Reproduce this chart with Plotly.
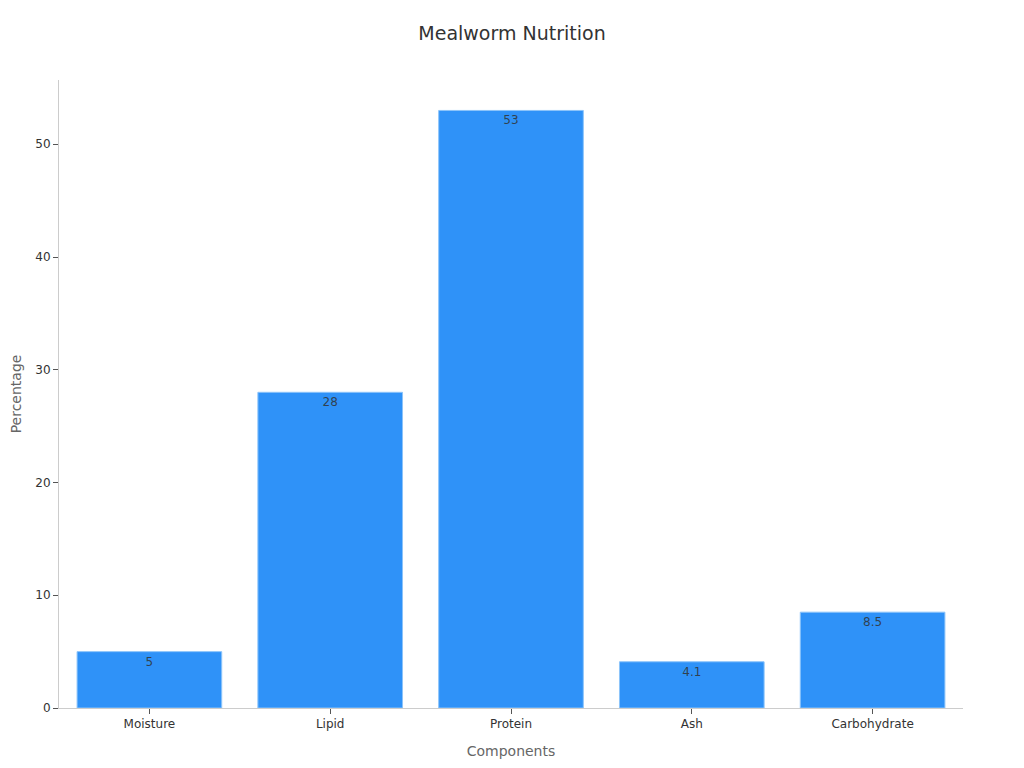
import plotly.graph_objects as go

categories = ["Moisture", "Lipid", "Protein", "Ash", "Carbohydrate"]
values = [5, 28, 53, 4.1, 8.5]

fig = go.Figure(go.Bar(
    x=categories, y=values,
    text=[str(v) for v in values],
    textposition="inside", insidetextanchor="end",
    textfont=dict(color="rgba(50,50,50,0.85)", size=12),
    marker=dict(color="#2F92F8", line=dict(color="#8CC4FA", width=1)),
))

fig.update_layout(
    width=1008, height=752,
    font=dict(family="DejaVu Sans", color="#333"),
    title=dict(text="Mealworm Nutrition", x=0.5, xanchor="center", y=0.966, yanchor="middle",
               font=dict(size=19, color="#333")),
    plot_bgcolor="white", paper_bgcolor="white",
    margin=dict(l=51, r=53, t=72, b=52),
    bargap=0.2,
    xaxis=dict(title=dict(text="Components", font=dict(size=14, color="#666"), standoff=15),
               automargin=False,
               showline=True, linecolor="#ccc", ticks="outside", tickcolor="#555",
               ticklen=5, tickfont=dict(size=12, color="#333")),
    yaxis=dict(title=dict(text="Percentage", font=dict(size=14, color="#666"), standoff=15),
               automargin=False,
               showline=True, linecolor="#ccc", ticks="outside", tickcolor="#555",
               ticklen=5, showgrid=False, zeroline=False, range=[0, 55.7],
               tickfont=dict(size=12, color="#333"), dtick=10),
    showlegend=False,
)
fig.write_html("out.html")
